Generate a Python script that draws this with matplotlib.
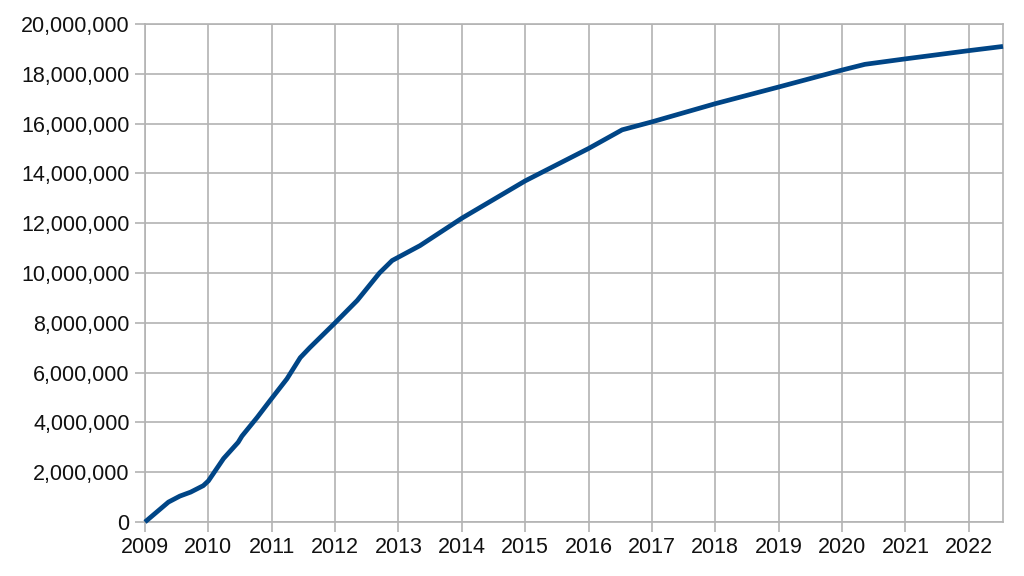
import matplotlib
matplotlib.use("Agg")
import matplotlib.pyplot as plt
from matplotlib.ticker import FuncFormatter, FixedLocator

# Data (decimal year, supply in millions)
years = [2009.0, 2009.37, 2009.55, 2009.72, 2009.92, 2010.0, 2010.24, 2010.47,
         2010.53, 2010.77, 2010.98, 2011.24, 2011.45, 2011.6, 2012.0, 2012.35,
         2012.7, 2012.9, 2013.34, 2014.0, 2015.0, 2016.0, 2016.53, 2017.0,
         2018.0, 2019.0, 2020.0, 2020.36, 2021.0, 2022.0, 2022.54]
supply_m = [0.0, 0.80, 1.04, 1.20, 1.46, 1.65, 2.55, 3.2,
            3.45, 4.2, 4.9, 5.75, 6.6, 7.0, 8.0, 8.9,
            10.0, 10.5, 11.1, 12.2, 13.7, 15.0, 15.75, 16.07,
            16.8, 17.47, 18.15, 18.38, 18.6, 18.93, 19.1]
year_ticks = list(range(2009, 2023))
y_ticks = list(range(0, 20000001, 2000000))

supply = [v * 1e6 for v in supply_m]

plt.rcParams['font.family'] = ['Liberation Sans', 'DejaVu Sans']
grid_c = '#b3b3b3'

fig = plt.figure(figsize=(10.24, 5.76), dpi=100)
ax = fig.add_axes([145/1024, 1-522/576, (1003-145)/1024, (522-24)/576])
ax.plot(years, supply, color='#004586', lw=3.4, solid_joinstyle='round',
        solid_capstyle='butt', zorder=3, clip_on=False)

ax.set_xlim(2009, 2022.54)
ax.set_ylim(0, 20000000)
ax.xaxis.set_major_locator(FixedLocator(year_ticks))
ax.yaxis.set_major_locator(FixedLocator(y_ticks))
ax.xaxis.set_major_formatter(FuncFormatter(lambda v, p: f"{int(round(v))}"))
ax.yaxis.set_major_formatter(FuncFormatter(lambda v, p: f"{int(round(v)):,}"))
ax.grid(True, color=grid_c, lw=1.2, zorder=0)
for s in ax.spines.values():
    s.set_color(grid_c)
    s.set_linewidth(1.2)
ax.tick_params(axis='both', colors=grid_c, length=7, width=1.2, labelsize=15.5, labelcolor='#111111')
ax.tick_params(axis='x', pad=4)
ax.tick_params(axis='y', pad=4)

fig.savefig('out.png', dpi=100, facecolor='white')
